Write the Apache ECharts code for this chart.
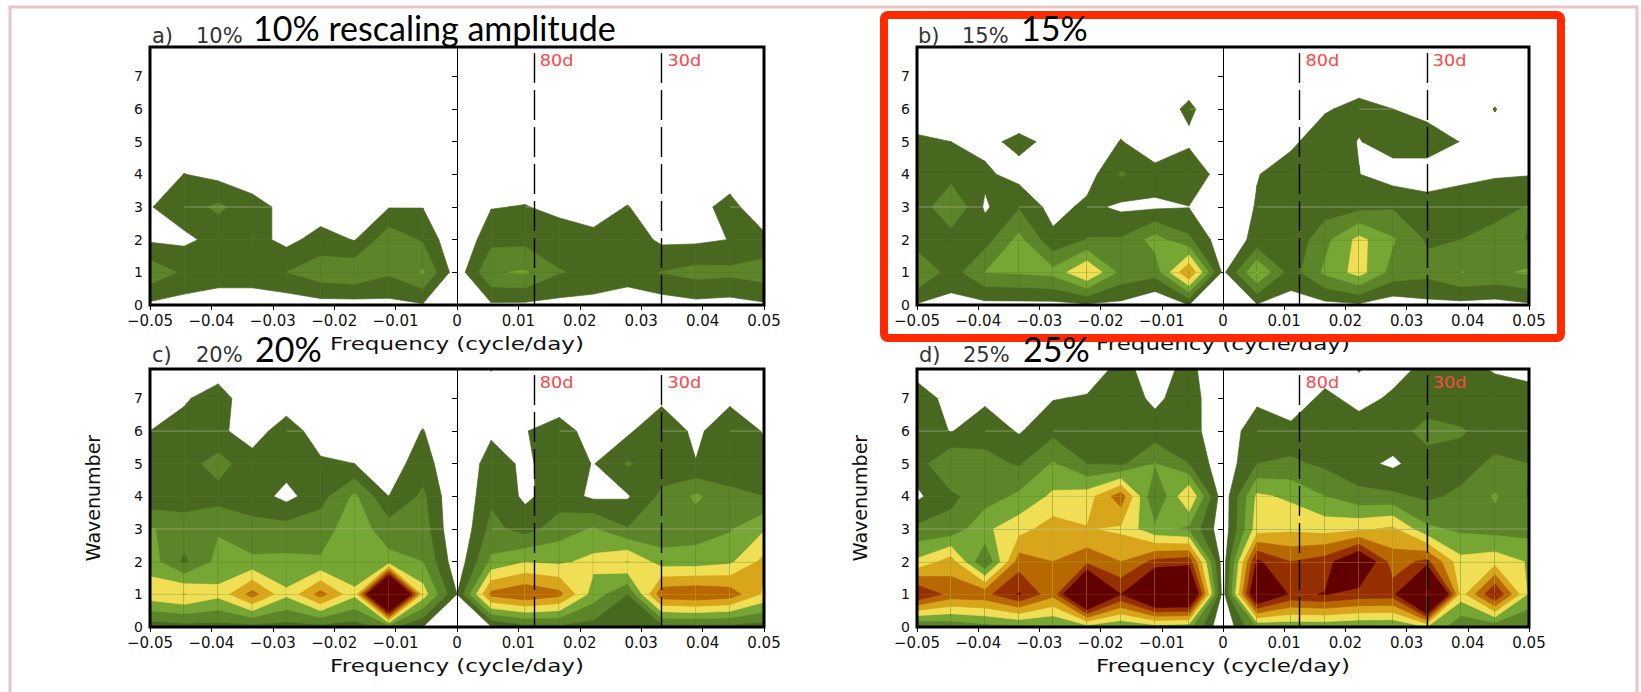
<!DOCTYPE html>
<html><head><meta charset="utf-8">
<script src="https://cdn.jsdelivr.net/npm/echarts@6/dist/echarts.min.js"></script>
<style>html,body{margin:0;padding:0;background:#fff}#c{width:1641px;height:692px}</style>
</head><body><div id="c"></div>
<script>
// ---- axes / grid coordinates of the data ----
const frequencies = [-0.05,-0.04444,-0.03889,-0.03333,-0.02778,-0.02222,-0.01667,-0.01111,-0.00556,0,0.00556,0.01111,0.01667,0.02222,0.02778,0.03333,0.03889,0.04444,0.05];
const wavenumbers = [0,1,2,3,4,5,6,7,8];
const xTickValues = [-0.05,-0.04,-0.03,-0.02,-0.01,0,0.01,0.02,0.03,0.04,0.05];
const yTickValues = [0,1,2,3,4,5,6,7];
const contourLevels = [1,2,3,4,5,6,7,8];
const levelColors = ['#486820','#5c8428','#76a634','#f0df55','#d9a51a','#b86800','#962f00','#600000'];
const periodLines = [{freq:0.0125,label:'80d'},{freq:0.0333,label:'30d'}];
const panelLetters = ['a)','b)','c)','d)'];
const panelAmps = ['10%','15%','20%','25%'];
const panelTitles = ['10% rescaling amplitude','15%','20%','25%'];
const xAxisTitle = 'Frequency (cycle/day)';
const yAxisTitle = 'Wavenumber';
const seamRows = [3, 6];   // faint raster seams visible in the source image

// ---- field values (rows = wavenumber 0..8, columns = frequencies) ----
const panelA = [
 [0.8,0.6,0.0,0.0,0.4,0.6,0.6,0.7,0.9,0.0,0.85,0.8,0.7,0.6,0.0,0.5,0.7,0.6,0.85],
 [2.7,1.8,1.9,1.9,2.0,2.6,2.8,2.15,3.1,0.4,2.9,3.1,2.05,1.8,1.8,2.02,2.35,2.25,2.5],
 [0.85,0.8,1.3,1.4,0.7,1.4,0.95,2.65,1.88,0.0,1.7,1.7,1.6,1.3,1.6,0.8,0.8,1.02,1.3],
 [0.95,1.5,2.2,1.4,0.7,0.4,0.3,0.95,0.97,0.0,0.95,1.05,0.7,0.5,1.05,0.3,0.6,1.4,0.1],
 [0.3,1.02,0.7,0.4,0.2,0.2,0.2,0.3,0.3,0.0,0.3,0.4,0.2,0.2,0.2,0.2,0.2,0.4,0.2],
 [0.2,0.2,0.2,0.2,0.2,0.2,0.2,0.2,0.2,0.0,0.2,0.2,0.2,0.2,0.2,0.2,0.2,0.2,0.2],
 [0.1,0.1,0.1,0.1,0.1,0.1,0.1,0.1,0.1,0.0,0.1,0.1,0.1,0.1,0.1,0.1,0.1,0.1,0.1],
 [0.1,0.1,0.1,0.1,0.1,0.1,0.1,0.1,0.1,0.0,0.1,0.1,0.1,0.1,0.1,0.1,0.1,0.1,0.1],
 [0.1,0.1,0.1,0.1,0.1,0.1,0.1,0.1,0.1,0.0,0.1,0.1,0.1,0.1,0.1,0.1,0.1,0.1,0.1]
];
const panelB = [
 [0.9,0.7,0.7,0.7,0.7,0.85,0.75,0.0,1.0,0.0,0.9,0.6,0.7,0.85,0.4,0.7,0.7,0.6,0.85],
 [3.1,1.5,3.0,3.1,3.3,5.05,2.7,2.4,6.05,0.75,4.03,1.5,3.2,4.4,2.6,2.3,3.02,2.8,3.15],
 [1.4,1.45,1.6,3.3,1.27,2.05,2.1,3.4,2.2,0.3,1.3,1.2,2.7,4.3,3.1,1.87,2.0,2.3,1.95],
 [1.2,3.02,0.85,1.9,0.6,1.25,0.8,0.85,0.97,0.0,1.1,1.6,1.5,1.7,1.9,1.25,1.3,1.7,2.05],
 [1.4,1.56,1.2,0.6,0.2,0.53,2.1,1.35,2.02,0.32,0.95,1.5,1.7,1.02,0.5,0.7,0.85,0.9,0.95],
 [1.2,1.0,0.7,1.3,0.7,0.3,1.05,0.35,0.75,0.0,0.5,0.8,1.6,0.95,1.5,1.3,0.98,0.5,0.3],
 [0.3,0.2,0.2,0.1,0.2,0.2,0.4,0.3,1.25,0.0,0.2,0.4,0.9,1.3,1.0,0.8,0.2,1.05,0.2],
 [0.2,0.1,0.1,0.1,0.1,0.1,0.1,0.1,0.3,0.0,0.1,0.2,0.3,0.4,0.3,0.2,0.1,0.2,0.1],
 [0.1,0.1,0.1,0.1,0.1,0.1,0.1,0.1,0.1,0.0,0.1,0.1,0.1,0.1,0.1,0.1,0.1,0.1,0.1]
];
const panelC = [
 [1.4,1.6,1.6,1.6,1.6,1.6,1.5,2.3,1.0,0.0,0.9,1.6,1.7,1.6,1.5,1.6,1.7,1.6,1.5],
 [4.6,5.05,4.3,6.4,4.2,6.4,4.2,15,4.5,1.0,6.3,6.9,6.3,3.5,2.0,6.7,6.9,6.6,4.8],
 [3.5,1.8,3.3,3.2,3.2,3.1,3.3,3.3,3.0,0.3,3.2,3.95,3.8,4.3,5.05,3.5,3.5,3.8,5.3],
 [3.1,2.5,2.9,2.3,2.4,2.6,3.5,2.5,2.5,0.0,2.3,1.6,2.5,3.1,2.05,2.3,2.5,2.9,3.9],
 [1.27,1.5,1.6,1.5,0.7,1.6,3.2,1.0,2.2,0.0,1.8,0.8,1.5,0.8,0.9,2.2,3.15,2.4,2.0],
 [1.6,1.6,2.4,1.4,1.4,1.15,1.0,0.5,1.5,0.0,1.5,0.79,1.6,0.95,2.1,1.5,1.05,1.05,1.5],
 [1.0,1.3,1.2,0.55,1.5,0.5,0.3,0.2,1.05,0.0,0.8,0.95,1.5,0.5,0.8,1.9,0.7,1.9,0.9],
 [0.4,0.9,1.4,0.4,0.4,0.2,0.1,0.1,0.3,0.0,0.5,0.2,0.3,0.2,0.2,0.7,0.2,0.7,0.3],
 [0.2,0.2,0.5,0.2,0.1,0.1,0.1,0.1,0.1,0.0,1.1,0.1,0.1,0.1,0.1,0.2,0.1,0.2,0.1]
];
const panelD = [
 [1.8,2.2,2.6,2.8,2.8,3.5,3.0,3.5,3.3,0.0,3.0,3.2,3.2,3.0,3.0,4.0,2.2,2.2,2.0],
 [8.1,6.6,6.7,8.1,6.3,12,8.0,11,11,0.5,10,7.8,8.05,7.6,7.5,14,4.5,8.1,3.8],
 [4.2,5.5,1.9,6.5,6.0,6.7,6.0,7.3,7.6,0.4,8.2,7.0,7.5,9.5,6.5,7.3,4.3,4.6,3.9],
 [2.2,2.3,3.8,4.6,5.5,5.05,4.8,3.2,2.8,0.3,4.5,4.8,4.6,4.8,5.2,3.2,2.8,2.6,2.6],
 [0.8,1.8,2.5,3.2,4.2,4.5,6.6,1.9,5.05,0.3,4.2,3.8,3.0,2.3,2.2,1.8,2.2,3.1,1.9],
 [1.5,3.0,2.3,1.9,3.1,2.0,1.8,3.05,2.0,0.3,2.0,2.2,1.8,1.3,0.8,1.6,1.6,2.2,2.0],
 [1.6,0.95,1.6,0.9,1.7,1.8,1.9,1.4,1.45,0.2,1.7,1.3,1.6,1.6,1.6,2.3,2.1,1.5,1.3],
 [1.3,0.8,0.8,0.5,0.95,1.1,1.5,0.8,1.5,0.1,0.75,0.3,1.3,0.6,1.2,1.5,1.3,1.3,1.4],
 [0.7,0.4,0.3,0.2,0.3,0.3,1.3,0.5,1.3,0.0,0.3,0.2,0.3,1.1,0.5,1.3,1.2,0.9,0.6]
];
const panels = [panelA, panelB, panelC, panelD];

// ---- layout (pixels) ----
const Y_MAX = 7.9;
const grids = [
  {left:150, top:47, width:614, height:258},
  {left:917, top:47, width:612, height:258},
  {left:150, top:369, width:614, height:258},
  {left:917, top:369, width:612, height:258}
];

function clipPoly(poly, f) {
  const out = [];
  const n = poly.length;
  for (let i = 0; i < n; i++) {
    const a = poly[i], b = poly[(i + 1) % n];
    const fa = f(a), fb = f(b);
    if (fa >= 0) out.push(a);
    if ((fa >= 0) !== (fb >= 0)) {
      const t = fa / (fa - fb);
      out.push([a[0] + t * (b[0] - a[0]), a[1] + t * (b[1] - a[1]), a[2] + t * (b[2] - a[2])]);
    }
  }
  return out;
}
function cross(a, b, t) {
  const s = (a[2] - t) / (a[2] - b[2]);
  return [a[0] + s * (b[0] - a[0]), a[1] + s * (b[1] - a[1]), t];
}
function bandPolys(q, t) {
  if (q.length !== 4) {
    const p = clipPoly(q, p => p[2] - t);
    return p.length >= 3 ? [p] : [];
  }
  const up = q.map(p => p[2] >= t);
  const cnt = up.filter(Boolean).length;
  if (cnt === 0) return [];
  if (cnt === 4) return [q];
  if (cnt === 2 && up[0] === up[2] && up[1] === up[3]) {
    const centre = (q[0][2] + q[1][2] + q[2][2] + q[3][2]) / 4;
    if (centre < t) {
      const res = [];
      for (let i = 0; i < 4; i++) {
        if (!up[i]) continue;
        const prev = q[(i + 3) % 4], next = q[(i + 1) % 4];
        res.push([cross(q[i], prev, t), q[i], cross(q[i], next, t)]);
      }
      return res;
    }
  }
  const p = clipPoly(q, p => p[2] - t);
  return p.length >= 3 ? [p] : [];
}

function cellData(field) {
  const d = [];
  for (let j = 0; j < wavenumbers.length - 1; j++) {
    for (let i = 0; i < frequencies.length - 1; i++) {
      d.push([frequencies[i], frequencies[i + 1], wavenumbers[j], wavenumbers[j + 1],
              field[j][i], field[j][i + 1], field[j + 1][i + 1], field[j + 1][i]]);
    }
  }
  return d;
}

function renderCell(params, api) {
  const x0 = api.value(0), x1 = api.value(1), y0 = api.value(2), y1 = api.value(3);
  const v00 = api.value(4), v10 = api.value(5);
  let poly = [[x0, y0, v00], [x1, y0, v10], [x1, y1, api.value(6)], [x0, y1, api.value(7)]];
  poly = clipPoly(poly, p => Y_MAX - p[1]);
  const children = [];
  if (poly.length < 3) return {type: 'group', children};
  for (let k = 0; k < contourLevels.length; k++) {
    bandPolys(poly, contourLevels[k]).forEach(pc => {
      children.push({
        type: 'polygon', silent: true,
        shape: {points: pc.map(p => api.coord([p[0], p[1]]))},
        style: {fill: levelColors[k], stroke: levelColors[k], lineWidth: 0.7}
      });
    });
  }
  if (seamRows.indexOf(y0) >= 0) {
    const seg = clipPoly([[x0, y0, v00], [x1, y0, v10]], p => p[2] - contourLevels[0]);
    if (seg.length >= 2) {
      const a = api.coord([seg[0][0], y0]), b = api.coord([seg[seg.length - 1][0], y0]);
      children.push({type: 'line', silent: true, shape: {x1: a[0], y1: a[1], x2: b[0], y2: b[1]},
        style: {stroke: 'rgba(215,215,200,0.45)', lineWidth: 1}});
    }
  }
  return {type: 'group', children};
}

function renderPeriodLabel(params, api) {
  const pt = api.coord([api.value(0), Y_MAX]);
  return {type: 'text', silent: true, x: pt[0] + 6, y: pt[1] + 6, scaleX: 1.18,
    style: {text: periodLines[params.dataIndex].label, fill: '#ff4545', font: '15px "DejaVu Sans"', textVerticalAlign: 'top'}};
}

const fmtX = v => {
  if (Math.abs(v) < 1e-9) return '0';
  const s = Math.abs(v).toFixed(2);
  return (v < 0 ? '\u2212' : '') + s;
};

const xAxes = [], yAxes = [], series = [], graphics = [];
grids.forEach((g, gi) => {
  xAxes.push({
    gridIndex: gi, type: 'value', min: -0.05, max: 0.05, interval: 0.01,
    axisLine: {show: false},
    axisTick: {show: true, inside: false, length: 5, lineStyle: {color: '#000', width: 1}, customValues: xTickValues},
    axisLabel: {formatter: fmtX, fontFamily: 'DejaVu Sans', fontSize: 15, color: '#111', margin: 8, customValues: xTickValues},
    splitLine: {show: false}
  });
  yAxes.push({
    gridIndex: gi, type: 'value', min: 0, max: Y_MAX, interval: 1,
    axisLine: {show: false},
    axisTick: {show: true, inside: false, length: 5, lineStyle: {color: '#000', width: 1}, customValues: yTickValues},
    axisLabel: {formatter: v => (Number.isInteger(v) ? String(v) : ''), fontFamily: 'DejaVu Sans', fontSize: 14, color: '#111', margin: 7, customValues: yTickValues},
    splitLine: {show: false},
    name: gi >= 2 ? yAxisTitle : '', nameLocation: 'middle', nameGap: 48,
    nameTextStyle: {fontFamily: 'DejaVu Sans', fontSize: 19, color: '#111'}
  });
  series.push({
    type: 'custom', xAxisIndex: gi, yAxisIndex: gi, renderItem: renderCell,
    data: cellData(panels[gi]), animation: false, silent: true, z: 2,
    markLine: {
      silent: true, symbol: ['none', 'none'], label: {show: false}, animation: false, precision: 5,
      data: [{xAxis: 0, lineStyle: {type: 'solid', width: 1, color: '#000'}}].concat(
        periodLines.map(p => ({xAxis: p.freq, lineStyle: {type: [30, 7], width: 1.4, color: '#000'}})))
    }
  });
  series.push({
    type: 'custom', xAxisIndex: gi, yAxisIndex: gi, renderItem: renderPeriodLabel,
    data: periodLines.map(p => [p.freq]), animation: false, silent: true, z: 5
  });
  graphics.push({type: 'rect', z: 50, silent: true,
    shape: {x: g.left, y: g.top, width: g.width, height: g.height},
    style: {fill: 'none', stroke: '#000', lineWidth: 3}});
  graphics.push({type: 'text', z: 55, silent: true, x: g.left + g.width / 2, y: g.top + g.height + 39, scaleX: 1.28,
    style: {text: xAxisTitle, font: '18px "DejaVu Sans"', fill: '#111', align: 'center', verticalAlign: 'middle'}});
});

// panel tags and titles
const tagPos = [[152, 25], [918, 25], [152, 344], [919, 344]];
const titlePos = [[253, 27], [1021, 27], [255, 348], [1023, 348]];
panelLetters.forEach((t, i) => {
  graphics.push({type: 'text', z: 80, x: tagPos[i][0], y: tagPos[i][1],
    style: {text: t, font: '21px "DejaVu Sans"', fill: '#333'}});
  graphics.push({type: 'text', z: 80, x: tagPos[i][0] + 44, y: tagPos[i][1],
    style: {text: panelAmps[i], font: '21px "DejaVu Sans"', fill: '#333'}});
  graphics.push({type: 'text', z: 80, x: titlePos[i][0], y: titlePos[i][1],
    style: {text: panelTitles[i], font: '34px Lato', fill: '#000', verticalAlign: 'middle', lineHeight: 26}});
});
graphics.push({type: 'rect', z: 70, silent: true,
  shape: {x: 884, y: 15, width: 677, height: 323, r: 4},
  style: {fill: 'none', stroke: '#ff2a00', lineWidth: 8}});
graphics.push({type: 'rect', z: 1, silent: true,
  shape: {x: 10, y: 7, width: 1627, height: 700},
  style: {fill: 'none', stroke: '#e9c5c5', lineWidth: 3}});

const chart = echarts.init(document.getElementById('c'), null, {renderer: 'svg', width: 1641, height: 692});
chart.setOption({
  animation: false,
  backgroundColor: '#ffffff',
  grid: grids.map(g => Object.assign({containLabel: false}, g)),
  xAxis: xAxes, yAxis: yAxes, series: series, graphic: graphics
});
</script></body></html>
